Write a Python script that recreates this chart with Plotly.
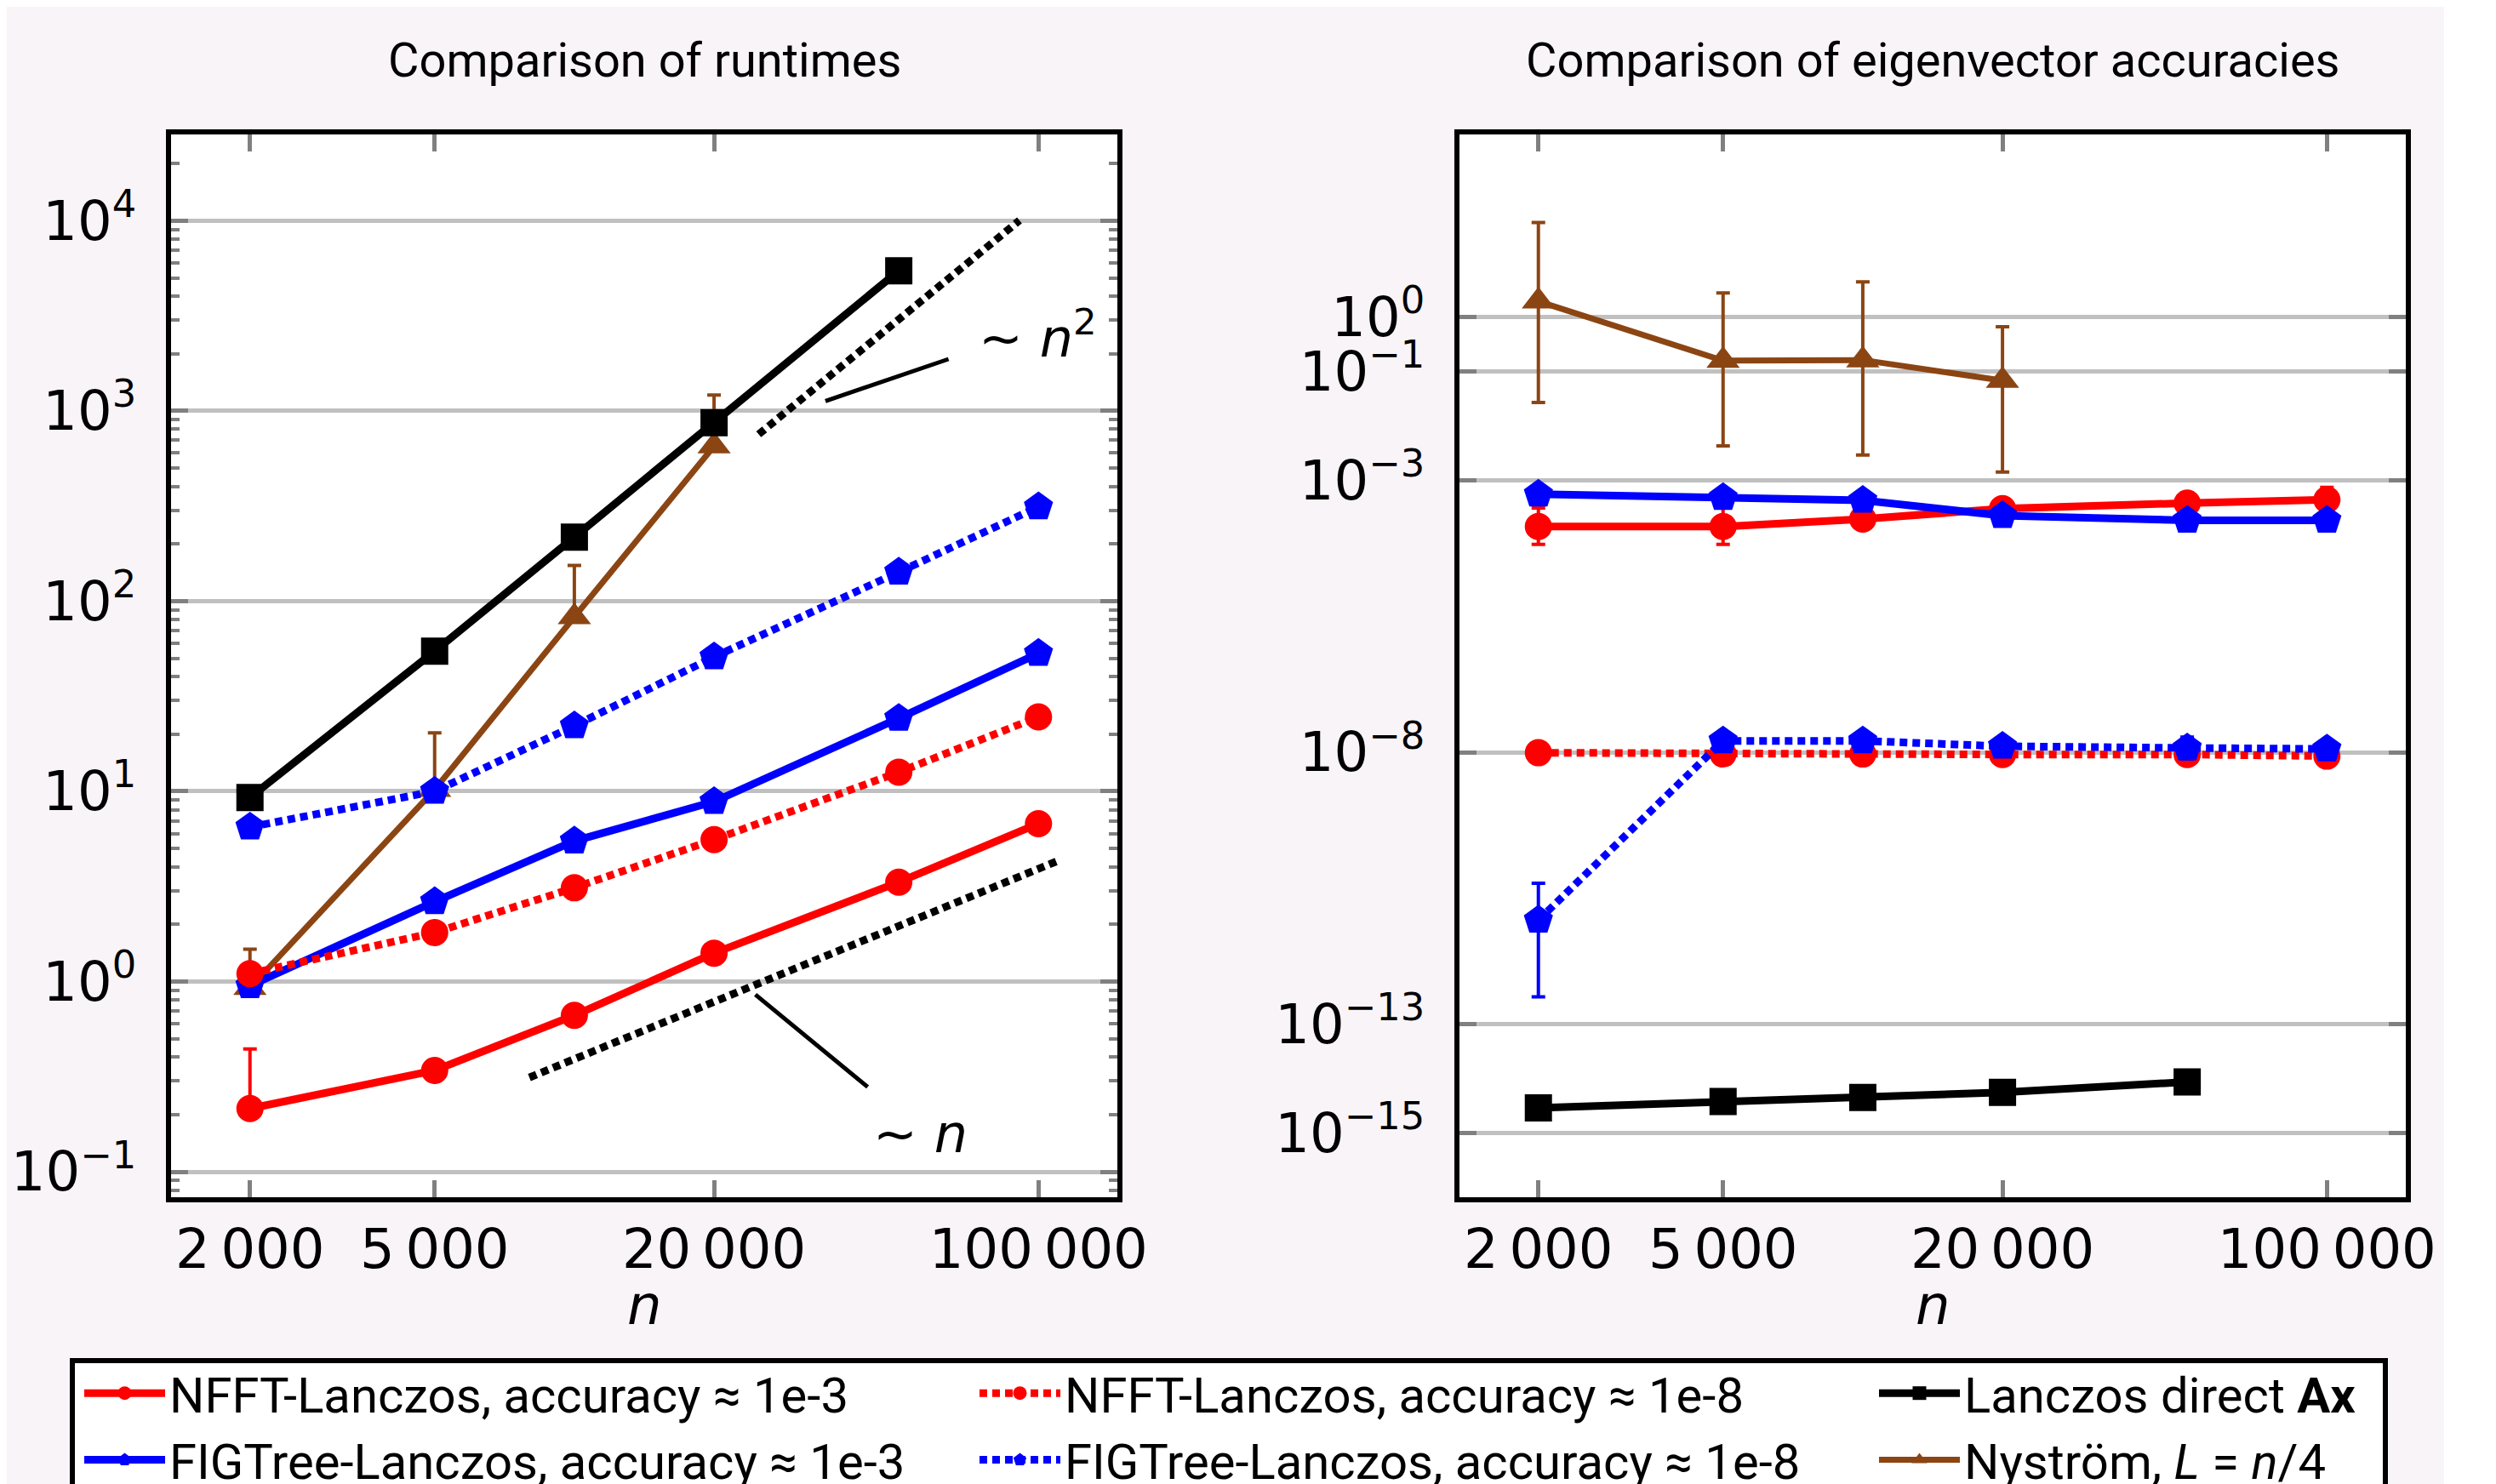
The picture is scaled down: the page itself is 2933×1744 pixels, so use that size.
import numpy as np
import plotly.graph_objects as go

# ---------------- data ----------------
n = [2000, 5000, 10000, 20000, 50000, 100000]
n_direct = [2000, 5000, 10000, 20000, 50000]
n_nys = [2000, 5000, 10000, 20000]

# runtimes (left panel)
rt_nfft3 = [0.215, 0.341, 0.664, 1.41, 3.33, 6.76]
rt_nfft3_hi = [0.442, 0.341, 0.664, 1.53, 3.33, 6.76]
rt_nfft8 = [1.10, 1.81, 3.11, 5.57, 12.6, 24.6]
rt_fig3 = [0.95, 2.63, 5.48, 8.83, 24.2, 53.1]
rt_fig8 = [6.49, 10.0, 22.1, 50.9, 142, 313]
rt_direct = [9.27, 54.5, 217, 867, 5450]
rt_nys = [0.927, 10.2, 82.6, 653]
rt_nys_hi = [1.48, 20.3, 154, 1210]

# reference slopes (left panel)
guide_n2_x = [24950, 91000]
guide_n2_y = [753, 10020]
guide_n1_x = [8000, 109600]
guide_n1_y = [0.313, 4.29]
leader_n2_x = [34750, 64000]
leader_n2_y = [1125, 1871]
leader_n1_x = [24550, 42850]
leader_n1_y = [0.853, 0.279]

# eigenvector accuracies (right panel)
acc_nfft3 = [1.41e-4, 1.41e-4, 1.94e-4, 3.0e-4, 3.8e-4, 4.4e-4]
acc_nfft3_lo = [6.6e-5, 6.6e-5, 1.94e-4, 2.8e-4, 2.6e-4, 3.0e-4]
acc_nfft3_hi = [3.09e-4, 3.09e-4, 1.94e-4, 3.3e-4, 5.9e-4, 7.4e-4]
acc_fig3 = [5.55e-4, 4.8e-4, 4.27e-4, 2.24e-4, 1.83e-4, 1.83e-4]
acc_nfft8 = [9.8e-9, 9.3e-9, 9.3e-9, 9.1e-9, 9.1e-9, 8.5e-9]
acc_fig8 = [8.2e-12, 1.62e-8, 1.62e-8, 1.29e-8, 1.2e-8, 1.15e-8]
acc_fig8_lo = [3.2e-13, 1.62e-8, 1.62e-8, 1.29e-8, 7.6e-9, 1.15e-8]
acc_fig8_hi = [3.9e-11, 1.62e-8, 1.62e-8, 1.29e-8, 1.9e-8, 1.15e-8]
acc_direct = [2.9e-15, 3.8e-15, 4.5e-15, 5.6e-15, 8.7e-15]
acc_nys = [1.95, 0.158, 0.162, 0.068]
acc_nys_lo = [0.0269, 0.00428, 0.00292, 0.00141]
acc_nys_hi = [54.5, 2.77, 4.43, 0.665]

x_tickvals = [2000, 5000, 20000, 100000]
x_ticktext = ["2\u2009000", "5\u2009000", "20\u2009000", "100\u2009000"]
y1_tickvals = [0.1, 1, 10, 100, 1000, 10000]
y1_ticktext = ["10<sup>\u22121</sup>", "10<sup>0</sup>", "10<sup>1</sup>", "10<sup>2</sup>",
               "10<sup>3</sup>", "10<sup>4</sup>"]
y2_tickvals = [1e-15, 1e-13, 1e-8, 1e-3, 1e-1, 1]
y2_ticktext = ["10<sup>\u221215</sup>", "10<sup>\u221213</sup>", "10<sup>\u22128</sup>",
               "10<sup>\u22123</sup>", "10<sup>\u22121</sup>", "10<sup>0</sup>"]

names = {
    "nfft3": "NFFT-Lanczos, accuracy \u2248 1e-3",
    "nfft8": "NFFT-Lanczos, accuracy \u2248 1e-8",
    "direct": "Lanczos direct <b>Ax</b>",
    "fig3": "FIGTree-Lanczos, accuracy \u2248 1e-3",
    "fig8": "FIGTree-Lanczos, accuracy \u2248 1e-8",
    "nys": "Nystr\u00f6m, <i>L</i> = <i>n</i>/4",
}
legend_of = {"nfft3": "legend", "fig3": "legend", "nfft8": "legend2", "fig8": "legend2",
             "direct": "legend3", "nys": "legend3"}
rank = {"nfft3": 1, "fig3": 2, "nfft8": 1, "fig8": 2, "direct": 1, "nys": 2}

RED, BLUE, BLACK, BROWN = "#ff0000", "#0000ff", "#000000", "#8b4513"
DOT = "9px,6px"
LW = 9
SZ = {"circle": 32, "square": 32, "pentagon": 36, "triangle-up": 34}

def err(vals, lo, hi):
    v = np.array(vals, float)
    d = dict(type="data", symmetric=False, thickness=4, width=8, visible=True)
    d["array"] = list(np.array(hi, float) - v) if hi is not None else [0] * len(v)
    d["arrayminus"] = list(v - np.array(lo, float)) if lo is not None else [0] * len(v)
    return d

fig = go.Figure()

def add(key, x, y, color, dash, symbol, width, xa, ya, show, e=None):
    kw = {}
    if e is not None:
        e["color"] = color
        kw["error_y"] = e
    fig.add_trace(go.Scatter(
        x=x, y=y, mode="lines+markers", name=names[key], legend=legend_of[key],
        legendrank=rank[key],
        line=dict(color=color, width=width, dash=dash),
        marker=dict(color=color, symbol=symbol, size=SZ[symbol], line=dict(width=0)),
        xaxis=xa, yaxis=ya, showlegend=show, **kw))

# left panel
add("nys", n_nys, rt_nys, BROWN, "solid", "triangle-up", 7, "x", "y", True, err(rt_nys, None, rt_nys_hi))
add("direct", n_direct, rt_direct, BLACK, "solid", "square", LW, "x", "y", True)
add("nfft3", n, rt_nfft3, RED, "solid", "circle", LW, "x", "y", True, err(rt_nfft3, None, rt_nfft3_hi))
add("fig3", n, rt_fig3, BLUE, "solid", "pentagon", LW, "x", "y", True)
add("nfft8", n, rt_nfft8, RED, DOT, "circle", LW, "x", "y", True)
add("fig8", n, rt_fig8, BLUE, DOT, "pentagon", LW, "x", "y", True)

for gx, gy in [(guide_n2_x, guide_n2_y), (guide_n1_x, guide_n1_y)]:
    fig.add_trace(go.Scatter(x=gx, y=gy, mode="lines", showlegend=False, hoverinfo="skip",
                             line=dict(color=BLACK, width=9, dash=DOT), xaxis="x", yaxis="y"))
for lx, ly in [(leader_n2_x, leader_n2_y), (leader_n1_x, leader_n1_y)]:
    fig.add_trace(go.Scatter(x=lx, y=ly, mode="lines", showlegend=False, hoverinfo="skip",
                             line=dict(color=BLACK, width=5), xaxis="x", yaxis="y"))

# right panel
add("nys", n_nys, acc_nys, BROWN, "solid", "triangle-up", 7, "x2", "y2", False, err(acc_nys, acc_nys_lo, acc_nys_hi))
add("direct", n_direct, acc_direct, BLACK, "solid", "square", LW, "x2", "y2", False)
add("nfft3", n, acc_nfft3, RED, "solid", "circle", LW, "x2", "y2", False, err(acc_nfft3, acc_nfft3_lo, acc_nfft3_hi))
add("fig3", n, acc_fig3, BLUE, "solid", "pentagon", LW, "x2", "y2", False)
add("nfft8", n, acc_nfft8, RED, DOT, "circle", LW, "x2", "y2", False)
add("fig8", n, acc_fig8, BLUE, DOT, "pentagon", LW, "x2", "y2", False, err(acc_fig8, acc_fig8_lo, acc_fig8_hi))

# figure size (page body has an 8px margin, so screen = figure + 8)
OFF = 8
W, H = 2933 - OFF, 1744 - OFF
def px(x):
    return (x - OFF) / W
def py(y):
    return 1 - (y - OFF) / H

TICKFONT = dict(family="DejaVu Sans", size=64, color="black")
GRID = "#c0c0c0"
TICKC = "#808080"

def xaxis(domain, anchor):
    return dict(type="log", domain=domain, anchor=anchor, range=[3.131, 5.170],
                tickvals=x_tickvals, ticktext=x_ticktext, tickfont=TICKFONT,
                ticks="inside", ticklen=20, tickwidth=5, tickcolor=TICKC,
                showline=True, linecolor="black", linewidth=6, mirror="allticks",
                showgrid=False, zeroline=False, ticklabelstandoff=0, automargin=False)

def yaxis(domain, anchor, rng, tv, tt, minor):
    d = dict(type="log", domain=domain, anchor=anchor, range=rng,
             tickvals=tv, ticktext=tt, tickfont=TICKFONT,
             ticks="inside", ticklen=20, tickwidth=5, tickcolor=TICKC,
             showline=True, linecolor="black", linewidth=6, mirror="allticks",
             showgrid=True, gridcolor=GRID, gridwidth=5, zeroline=False,
             ticklabelstandoff=22, automargin=False)
    if minor:
        d["minor"] = dict(ticks="inside", ticklen=10, tickwidth=4, tickcolor=TICKC,
                          dtick="D1", showgrid=False)
    return d

LEGFONT = dict(family="Roboto", size=58, color="black")

def leg(xscreen):
    return dict(orientation="v", x=(xscreen - OFF) / W, xanchor="left", y=py(1593), yanchor="top",
                xref="container", yref="container", font=LEGFONT,
                bgcolor="rgba(0,0,0,0)", borderwidth=0, itemwidth=95,
                traceorder="normal", tracegroupgap=0)

ydom = [py(1407), py(158)]
fig.update_layout(
    width=W, height=H, autosize=False,
    margin=dict(l=0, r=0, t=0, b=0, autoexpand=False),
    paper_bgcolor="#f9f4f8", plot_bgcolor="white",
    xaxis=xaxis([px(201), px(1313)], "y"),
    yaxis=yaxis(ydom, "x", [-1.134, 4.453], y1_tickvals, y1_ticktext, True),
    xaxis2=xaxis([px(1715), px(2827)], "y2"),
    yaxis2=yaxis(ydom, "x2", [-16.18, 3.357], y2_tickvals, y2_ticktext, False),
    legend=leg(94), legend2=leg(1146), legend3=leg(2203),
    showlegend=True,
    shapes=[
        dict(type="rect", xref="paper", yref="paper", x0=px(2872), x1=1, y0=0, y1=1,
             fillcolor="white", line=dict(width=0), layer="below"),
        dict(type="rect", xref="paper", yref="paper", x0=px(85), x1=px(2803),
             y0=-0.05, y1=py(1599),
             fillcolor="white", line=dict(width=6, color="black"), layer="below"),
    ],
)

ann = []
for cx, title in [(757, "Comparison of runtimes"), (2271, "Comparison of eigenvector accuracies")]:
    ann.append(dict(text=title, x=px(cx), y=py(71), xref="paper", yref="paper",
                    showarrow=False, xanchor="center", yanchor="middle",
                    font=dict(family="Roboto", size=56, color="black")))
    ann.append(dict(text="<i>n</i>", x=px(cx), y=py(1534), xref="paper", yref="paper",
                    showarrow=False, xanchor="center", yanchor="middle",
                    font=dict(family="DejaVu Sans", size=64, color="black")))
ann.append(dict(text="\u223c <i>n</i><sup>2</sup>", x=np.log10(99800), y=np.log10(2520),
                xref="x", yref="y", showarrow=False, xanchor="center", yanchor="middle",
                font=dict(family="DejaVu Sans", size=62, color="black")))
ann.append(dict(text="\u223c <i>n</i>", x=np.log10(55700), y=np.log10(0.158),
                xref="x", yref="y", showarrow=False, xanchor="center", yanchor="middle",
                font=dict(family="DejaVu Sans", size=62, color="black")))
fig.update_layout(annotations=ann)

fig.write_html("out.html")
